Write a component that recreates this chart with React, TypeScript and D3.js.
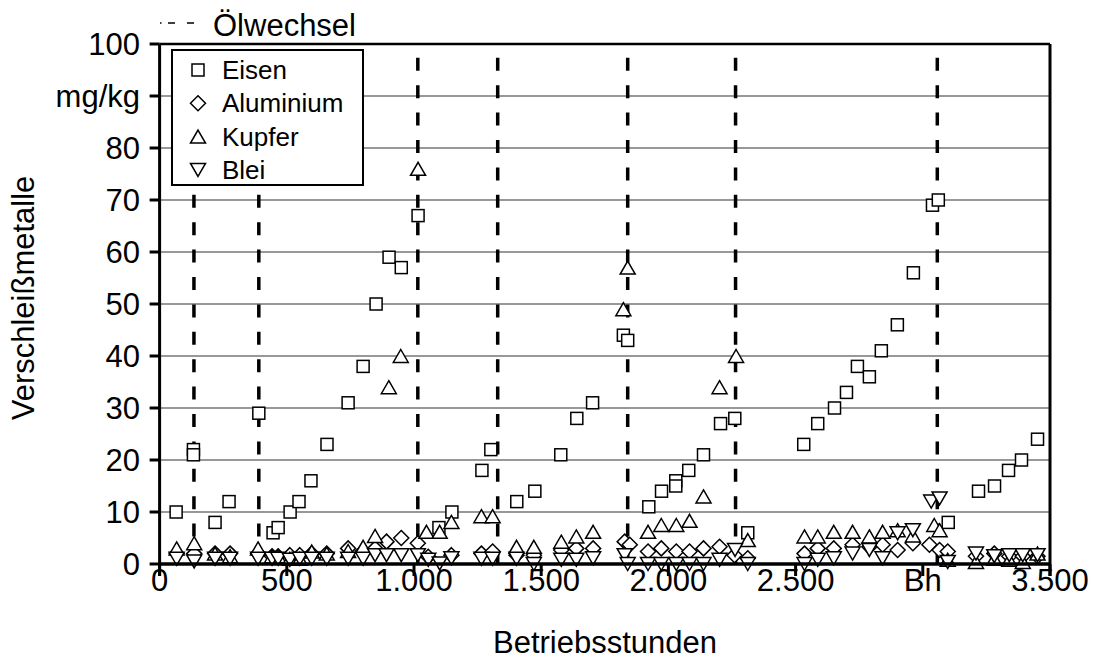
import React from "react";
import * as d3 from "d3";

// ---- data ----
const xTickValues = [0, 500, 1000, 1500, 2000, 2500, 3000, 3500];
const xTickLabels = ["0", "500", "1.000", "1.500", "2.000", "2.500", "Bh", "3.500"];
const yTickValues = [0, 10, 20, 30, 40, 50, 60, 70, 80, 90, 100];
const yTickLabels = ["0", "10", "20", "30", "40", "50", "60", "70", "80", "mg/kg", "100"];
const oilChanges = [135, 390, 1015, 1329, 1840, 2264, 3057];

const eisen: [number, number][] = [
  [65, 10], [133, 22], [133, 21], [218, 8], [273, 12], [390, 29], [446, 6], [466, 7], [513, 10], [548, 12],
  [595, 16], [658, 23], [741, 31], [800, 38], [851, 50], [902, 59], [950, 57], [1016, 67], [1098, 7], [1149, 10],
  [1267, 18], [1302, 22], [1404, 12], [1475, 14], [1577, 21], [1640, 28], [1702, 31], [1823, 44], [1840, 43],
  [1923, 11], [1973, 14], [2029, 16], [2029, 15], [2080, 18], [2138, 21], [2205, 27], [2261, 28], [2312, 6],
  [2532, 23], [2587, 27], [2653, 30], [2700, 33], [2743, 38], [2790, 36], [2837, 41], [2900, 46], [2963, 56],
  [3038, 69], [3061, 70], [3100, 8], [3219, 14], [3282, 15], [3337, 18], [3388, 20], [3451, 24],
];

const aluminium: [number, number][] = [
  [67, 2], [136, 2], [218, 2], [277, 2], [387, 2], [442, 1.5], [466, 1.5], [512, 1.7], [551, 1.7], [598, 2],
  [657, 2], [741, 3], [800, 2.5], [847, 3], [892, 4.3], [950, 5], [1015, 4], [1056, 1.4], [1147, 1.7], [1265, 2],
  [1309, 2.4], [1403, 1.7], [1471, 1.7], [1579, 2.7], [1638, 3], [1704, 3], [1828, 4.3], [1848, 3.7], [1920, 2.4],
  [1972, 3], [2031, 2.4], [2083, 2.4], [2138, 3], [2201, 3.3], [2260, 1.7], [2312, 1.1], [2535, 2], [2587, 3],
  [2650, 3], [2724, 3.7], [2790, 3.3], [2842, 3.7], [2901, 2.7], [2961, 4], [3026, 3.7], [3066, 2.7], [3098, 2.4],
  [3209, 1.5], [3281, 2], [3340, 1.5], [3393, 1.5], [3451, 1.5],
];

const kupfer: [number, number][] = [
  [67, 3], [136, 4], [218, 2], [277, 1.5], [387, 3], [442, 1.5], [466, 1.5], [512, 1], [551, 1], [598, 2.4],
  [657, 2], [741, 2.5], [800, 3.3], [847, 5.4], [901, 34], [948, 40], [1016, 76], [1049, 6.2], [1101, 6.2],
  [1147, 8.1], [1265, 9.2], [1309, 9.2], [1403, 3.3], [1471, 3.3], [1579, 4.3], [1638, 5.3], [1704, 6.2],
  [1823, 49], [1840, 57], [1920, 6.2], [1972, 7.5], [2031, 7.5], [2083, 8.3], [2138, 13], [2201, 34], [2266, 40],
  [2312, 4.6], [2535, 5.3], [2587, 5.3], [2650, 6.2], [2724, 6.2], [2790, 5.3], [2842, 6.2], [2901, 6.5],
  [2961, 5.5], [3045, 7.5], [3066, 6.5], [3098, 0.8], [3209, 0.4], [3281, 1], [3340, 0.8], [3393, 0.4], [3451, 2],
];

const blei: [number, number][] = [
  [67, 1], [136, 0.5], [218, 1], [277, 1], [387, 1], [442, 1], [466, 1], [512, 0.8], [551, 1], [598, 1],
  [657, 1], [741, 1], [800, 1], [847, 1.7], [892, 1.7], [950, 1.7], [1015, 1.7], [1056, 0.8], [1101, 0.1],
  [1147, 1.1], [1265, 1], [1309, 1], [1403, 1], [1471, 0], [1579, 0.8], [1638, 0.8], [1704, 1.1], [1828, 1.7],
  [1840, 0], [1920, 0], [1972, 0], [2031, 0], [2083, 0], [2138, 0], [2201, 0.8], [2262, 2.7], [2312, 0],
  [2535, 0], [2587, 0.8], [2650, 1.1], [2724, 2], [2790, 2.7], [2842, 1.1], [2901, 5.9], [2961, 6.5],
  [3033, 12], [3066, 12.6], [3098, 0.4], [3209, 2], [3281, 1.5], [3340, 1.7], [3393, 1.7], [3451, 1.7],
];

const seriesNames = ["Eisen", "Aluminium", "Kupfer", "Blei"];
const seriesShapes = ["square", "diamond", "up", "down"];
const oilLegend = "Ölwechsel";
const xTitle = "Betriebsstunden";
const yTitle = "Verschleißmetalle";

// ---- layout ----
const W = 1094;
const H = 660;
const font = "'Liberation Sans', Arial, sans-serif";

const x = d3.scaleLinear().domain([0, 3500]).range([159.6, 1050]);
const y = d3.scaleLinear().domain([0, 100]).range([564, 44]);

function Marker({ shape, cx, cy }: { shape: string; cx: number; cy: number }) {
  const st = { fill: "#fff", stroke: "#000", strokeWidth: 1.5 };
  if (shape === "square") {
    return <rect x={cx - 6} y={cy - 6} width={12} height={12} {...st} />;
  }
  if (shape === "diamond") {
    return <path d={`M${cx},${cy - 7.5}L${cx + 7.5},${cy}L${cx},${cy + 7.5}L${cx - 7.5},${cy}Z`} {...st} />;
  }
  if (shape === "up") {
    return <path d={`M${cx},${cy - 6.5}L${cx + 7.5},${cy + 6.5}L${cx - 7.5},${cy + 6.5}Z`} {...st} />;
  }
  return <path d={`M${cx},${cy + 6.5}L${cx + 7.5},${cy - 6.5}L${cx - 7.5},${cy - 6.5}Z`} {...st} />;
}

export default function App() {
  const allSeries = [eisen, aluminium, kupfer, blei];
  const [x0, x1] = x.range();
  const [yb, yt] = y.range();
  return (
    <svg width={W} height={H} style={{ position: "absolute", left: 0, top: 0, background: "#fff" }}
      fontFamily={font}>
      <rect x={0} y={0} width={W} height={H} fill="#fff" />
      {/* gridlines */}
      {yTickValues.slice(1, -1).map((v) => (
        <line key={"g" + v} x1={x0} x2={x1} y1={y(v)} y2={y(v)} stroke="#333" strokeWidth={1.2} />
      ))}
      {/* oil change dashed lines */}
      {oilChanges.map((h) => (
        <line key={"o" + h} x1={x(h)} x2={x(h)} y1={yb} y2={yt} stroke="#000" strokeWidth={3.5}
          strokeDasharray="13 14.4" />
      ))}
      {/* data */}
      {allSeries.map((s, i) =>
        s.map(([h, v], j) => <Marker key={i + "-" + j} shape={seriesShapes[i]} cx={x(h)} cy={y(v)} />)
      )}
      {/* frame */}
      <line x1={x0} x2={x1} y1={yt} y2={yt} stroke="#000" strokeWidth={2.5} />
      <line x1={x1} x2={x1} y1={yt} y2={yb + 12} stroke="#000" strokeWidth={3} />
      <line x1={x0} x2={x0} y1={yt} y2={yb + 12} stroke="#000" strokeWidth={3} />
      <line x1={x0} x2={x1} y1={yb} y2={yb} stroke="#000" strokeWidth={3.5} />
      {/* y ticks */}
      {yTickValues.map((v, i) => (
        <g key={"yt" + v}>
          <line x1={x0 - 10} x2={x0} y1={y(v)} y2={y(v)} stroke="#000" strokeWidth={3} />
          <text x={140} y={y(v) + 11} textAnchor="end" fontSize={31}>{yTickLabels[i]}</text>
        </g>
      ))}
      {/* x ticks */}
      {xTickValues.map((v, i) => (
        <g key={"xt" + v}>
          <line x1={x(v)} x2={x(v)} y1={yb} y2={yb + 12} stroke="#000" strokeWidth={3} />
          <text x={x(v)} y={591} textAnchor="middle" fontSize={31}>{xTickLabels[i]}</text>
        </g>
      ))}
      {/* titles */}
      <text x={605} y={653} textAnchor="middle" fontSize={31}>{xTitle}</text>
      <text transform={`translate(34,298) rotate(-90)`} textAnchor="middle" fontSize={31}>{yTitle}</text>
      {/* oil legend */}
      <line x1={160} x2={194} y1={23} y2={23} stroke="#000" strokeWidth={1.5} strokeDasharray="1.5 6.5 7 12 7" />
      <text x={213} y={36} fontSize={31}>{oilLegend}</text>
      {/* series legend */}
      <rect x={172} y={50} width={191} height={135} fill="#fff" stroke="#000" strokeWidth={2} />
      {seriesNames.map((n, i) => {
        const cy = 70 + i * 33.3;
        return (
          <g key={"l" + n}>
            <Marker shape={seriesShapes[i]} cx={198} cy={cy} />
            <text x={222} y={cy + 9} fontSize={26}>{n}</text>
          </g>
        );
      })}
    </svg>
  );
}
